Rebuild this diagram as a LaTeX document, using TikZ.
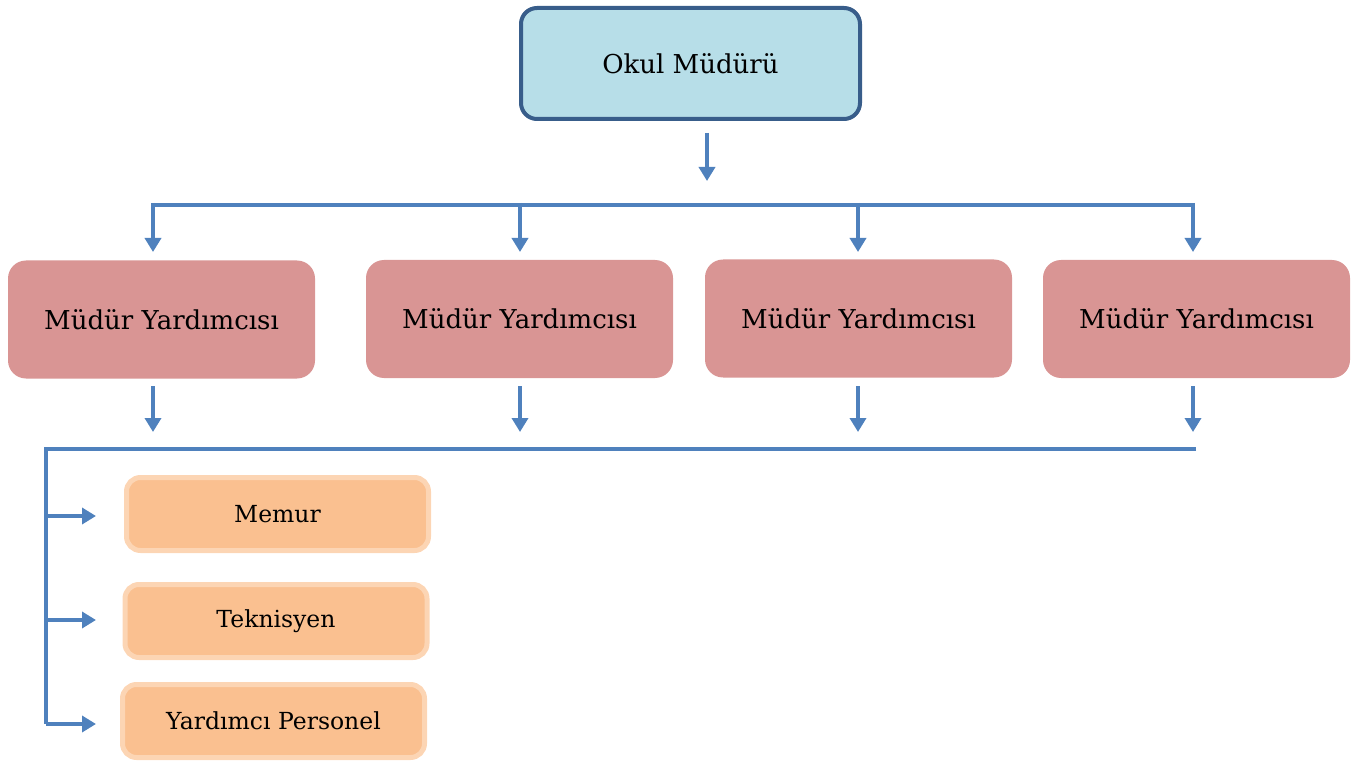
\documentclass[tikz,border=0pt]{standalone}
\usepackage{fontspec}
\setmainfont{DejaVu Serif}
\usetikzlibrary{arrows.meta,calc}
\definecolor{topfill}{HTML}{B7DEE8}
\definecolor{topdraw}{HTML}{385D8A}
\definecolor{midfill}{HTML}{D99594}
\definecolor{lowfill}{HTML}{FAC090}
\definecolor{lowdraw}{HTML}{FCD5B4}
\definecolor{conn}{HTML}{4F81BD}
\begin{document}
\begin{tikzpicture}[x=1pt,y=-1pt,
  topbox/.style={rounded corners=16pt,fill=topfill,draw=topdraw,line width=4pt,minimum width=339pt,minimum height=111pt,inner sep=0pt,font=\fontsize{26}{30}\selectfont},
  midbox/.style={rounded corners=18pt,fill=midfill,draw=none,minimum width=307pt,minimum height=118pt,inner sep=0pt,font=\fontsize{26}{30}\selectfont},
  lowbox/.style={rounded corners=14pt,fill=lowfill,draw=lowdraw,line width=5pt,minimum width=302pt,minimum height=73pt,inner sep=0pt,font=\fontsize{23.5}{27}\selectfont},
  arr/.style={draw=conn,line width=4.5pt,-{Triangle[width=16pt,length=14pt]}},
  bus/.style={draw=conn,line width=4.5pt}]
\useasboundingbox (0,0) rectangle (1361,762);
\node[topbox] (top) at (690.5,63.5) {Okul Müdürü};
\node[midbox] (m1) at (161.5,319.5) {Müdür Yardımcısı};
\node[midbox] (m2) at (519.5,319) {Müdür Yardımcısı};
\node[midbox] (m3) at (858.5,318.5) {Müdür Yardımcısı};
\node[midbox] (m4) at (1196.5,319) {Müdür Yardımcısı};
\node[lowbox] (l1) at (277.5,514) {Memur};
\node[lowbox] (l2) at (276,621) {Teknisyen};
\node[lowbox] (l3) at (273.5,721) {Yardımcı Personel};
% top arrow
\coordinate (t1) at (707,133);
\coordinate (t2) at (707,181);
\draw[arr] (t1) -- (t2);
% upper bus
\coordinate (b1) at (153,205);
\coordinate (b4) at (1193,205);
\draw[bus] ($(b1)+(0,2)$) -- (b1) -- (b4) -- ($(b4)+(0,2)$);
\foreach \n/\x in {m1/153,m2/520,m3/858,m4/1193}{
  \draw[arr] (\x,203) -- (\x,252);
  \draw[arr] (\x,386) -- (\x,432);
}
% lower bus
\coordinate (c1) at (46,449);
\coordinate (c2) at (1196,449);
\coordinate (c3) at (46,724);
\draw[bus] (c2) -- (c1) -- (c3);
\draw[arr] (44,516) -- (96,516);
\draw[arr] (44,620) -- (96,620);
\draw[arr] (c3) -- (96,724);
\end{tikzpicture}
\end{document}
